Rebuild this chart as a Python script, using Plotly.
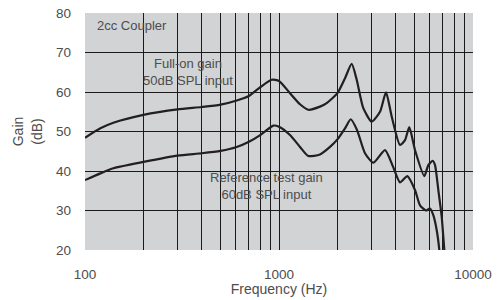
import plotly.graph_objects as go

# Full-on gain, 50dB SPL input
full_freq = [100, 120, 140, 200, 300, 400, 500, 600, 700, 800, 917, 1000, 1139, 1283, 1416,
             1627, 1761, 2000, 2189, 2370, 2515, 2720, 3005, 3317, 3560, 3810, 4205, 4461,
             4695, 5023, 5610, 5885, 6200, 6372, 6625, 6897, 7115, 7200]
full_gain = [48.4, 50.8, 52.2, 54.2, 55.6, 56.2, 56.8, 57.8, 59.0, 61.2, 63.1, 62.8, 59.7, 56.9, 55.5,
             56.3, 57.2, 59.7, 63.5, 67.1, 63.1, 55.9, 52.5, 55.0, 59.9, 53.8, 46.6, 47.8,
             51.1, 45.3, 38.7, 41.5, 42.6, 41.5, 35.2, 28.4, 20.0, 17.0]

# Reference test gain, 60dB SPL input
ref_freq = [100, 120, 140, 200, 300, 400, 500, 600, 700, 800, 935, 1000, 1139, 1283, 1416,
            1627, 1832, 2000, 2189, 2342, 2524, 2775, 3063, 3519, 3870, 4205, 4585, 5023,
            5331, 5724, 6002, 6243, 6500, 6705, 6780]
ref_gain = [37.7, 39.4, 40.7, 42.3, 43.9, 44.5, 45.1, 46.0, 47.4, 49.1, 51.5, 51.2, 49.1, 46.1, 43.8,
            44.2, 46.1, 48.0, 50.8, 53.1, 50.4, 44.5, 42.1, 45.3, 41.1, 37.1, 38.7, 35.2,
            31.3, 30.0, 30.5, 28.8, 25.0, 20.0, 17.0]

x_ticks = [100, 1000, 10000]
x_grid = [200, 300, 400, 500, 600, 700, 800, 900, 1000,
          2000, 3000, 4000, 5000, 6000, 7000, 8000, 9000]
y_ticks = [20, 30, 40, 50, 60, 70, 80]
y_grid = [30, 40, 50, 60, 70]

line_col = "#231f20"
text_col = "#4d4d4d"
font_fam = "Liberation Sans, Arial, sans-serif"

fig = go.Figure()
fig.add_trace(go.Scatter(x=full_freq, y=full_gain, mode="lines",
                         line=dict(color=line_col, width=2.2, shape="spline", smoothing=0.6),
                         showlegend=False, hoverinfo="skip"))
fig.add_trace(go.Scatter(x=ref_freq, y=ref_gain, mode="lines",
                         line=dict(color=line_col, width=2.2, shape="spline", smoothing=0.6),
                         showlegend=False, hoverinfo="skip"))

fig.update_layout(
    width=498, height=300,
    margin=dict(l=85, r=25, t=13, b=50),
    paper_bgcolor="white",
    plot_bgcolor="#d1d3d4",
    font=dict(family=font_fam, color=text_col, size=13),
    xaxis=dict(
        type="log", range=[2, 4], automargin=False,
        tickmode="array", tickvals=x_ticks, ticktext=[str(v) for v in x_ticks],
        showgrid=False, zeroline=False, showline=False,
        ticks="", ticklabelstandoff=14,
        tickfont=dict(size=13.5, color=text_col),
        minor=dict(tickmode="array", tickvals=x_grid, showgrid=True,
                   gridcolor="#1a1a1a", gridwidth=1.2, ticks=""),
        title=dict(text="Frequency (Hz)", font=dict(size=14, color=text_col), standoff=2),
    ),
    yaxis=dict(
        range=[20, 80], automargin=False,
        tickmode="array", tickvals=y_ticks,
        showgrid=False, zeroline=False, showline=False,
        ticks="", ticklabelstandoff=13,
        tickfont=dict(size=13.5, color=text_col),
        minor=dict(tickmode="array", tickvals=y_grid, showgrid=True,
                   gridcolor="#1a1a1a", gridwidth=1.2, ticks=""),
        title=dict(text="Gain<br>(dB)", font=dict(size=14, color=text_col), standoff=10),
    ),
    annotations=[
        dict(text="2cc Coupler", xref="paper", yref="paper", x=0.026, y=0.947,
             xanchor="left", yanchor="middle", showarrow=False,
             font=dict(size=13, color=text_col)),
        dict(text="Full-on gain<br>50dB SPL input", xref="paper", yref="paper",
             x=0.265, y=0.75, xanchor="center", yanchor="middle", showarrow=False,
             font=dict(size=13, color=text_col)),
        dict(text="Reference test gain<br>60dB SPL input", xref="paper", yref="paper",
             x=0.469, y=0.272, xanchor="center", yanchor="middle", showarrow=False,
             font=dict(size=13, color=text_col)),
    ],
)

fig.write_html("out.html", config={"displayModeBar": False},
               post_script="document.body.style.margin='0';document.body.style.padding='0';")
